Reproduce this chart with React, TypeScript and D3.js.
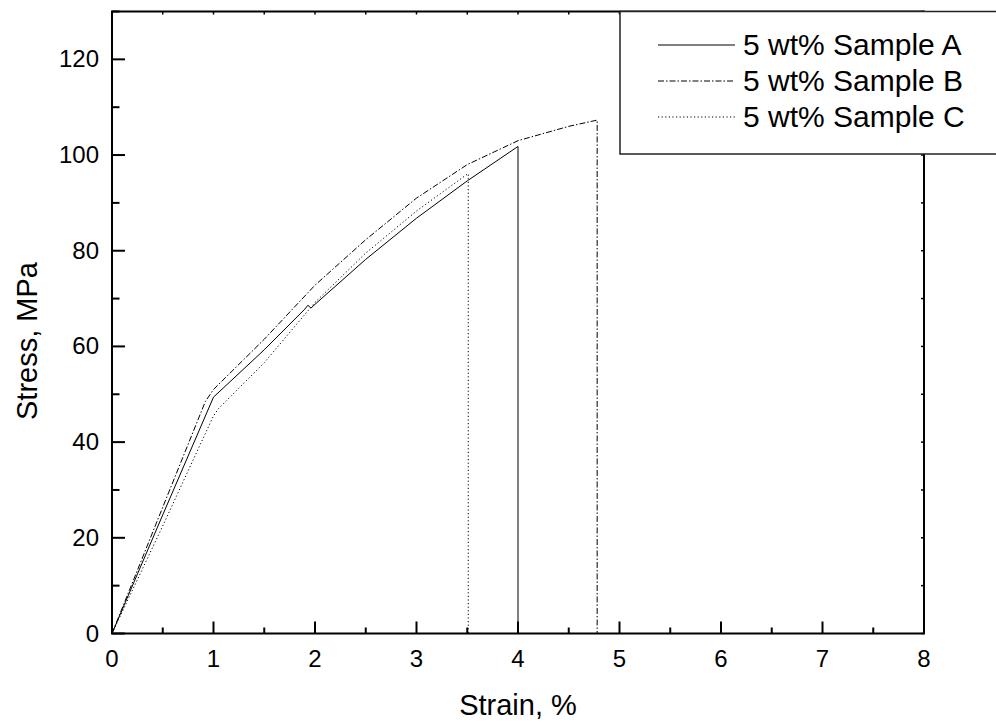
import React from "react";
import * as d3 from "d3";

// strain (%) and stress (MPa)
const strainA = [0, 0.5, 1.0, 1.5, 1.9, 1.93, 1.96, 2.0, 2.5, 3.0, 3.5, 4.0, 4.0];
const stressA = [0, 24.8, 49.4, 59.3, 67.8, 68.6, 68.0, 68.8, 78.2, 86.8, 94.6, 101.8, 0];

const strainB = [0, 0.5, 0.92, 1.0, 1.5, 2.0, 2.5, 3.0, 3.5, 4.0, 4.5, 4.78, 4.78];
const stressB = [0, 26.4, 48.5, 51.0, 61.5, 72.8, 82.3, 91.0, 98.0, 103.0, 106.0, 107.3, 0];

const strainC = [0, 0.5, 1.0, 1.05, 1.5, 2.0, 2.5, 3.0, 3.5, 3.51, 3.51];
const stressC = [0, 22.5, 45.5, 47.0, 56.6, 69.2, 79.5, 88.3, 96.0, 96.1, 0];

const seriesNames = ["5 wt% Sample A", "5 wt% Sample B", "5 wt% Sample C"];
const xTicks = [0, 1, 2, 3, 4, 5, 6, 7, 8];
const yTicks = [0, 20, 40, 60, 80, 100, 120];
const xTitle = "Strain, %";
const yTitle = "Stress, MPa";

const dashes = [null, "6,2,1.5,2", "1.2,2.4"];

export default function App() {
  const W = 996, H = 727;
  const x = d3.scaleLinear().domain([0, 8]).range([112, 924]);
  const y = d3.scaleLinear().domain([0, 130]).range([633.5, 11.5]);
  const line = d3.line<[number, number]>().x(d => x(d[0])).y(d => y(d[1]));
  const series = [
    strainA.map((s, i) => [s, stressA[i]] as [number, number]),
    strainB.map((s, i) => [s, stressB[i]] as [number, number]),
    strainC.map((s, i) => [s, stressC[i]] as [number, number]),
  ];
  const xMinor = d3.range(0, 8.01, 0.5);
  const yMinor = d3.range(0, 130.01, 10);
  const font = "'Liberation Sans', Arial, Helvetica, sans-serif";
  const x0 = x(0), x1 = x(8), yb = y(0), yt = y(130);

  return (
    <svg width={W} height={H} style={{ position: "absolute", left: 0, top: 0, background: "#fff" }}
      fontFamily={font}>
      <rect x={0} y={0} width={W} height={H} fill="#fff" />
      {/* data */}
      {series.map((d, i) => (
        <path key={i} d={line(d) || ""} fill="none" stroke="#000" strokeWidth={1}
          strokeDasharray={dashes[i] || undefined} />
      ))}
      {/* frame */}
      <line x1={x0} x2={x0} y1={yt} y2={yb} stroke="#000" strokeWidth={2} />
      <line x1={x0 - 1} x2={x1 + 1} y1={yb} y2={yb} stroke="#000" strokeWidth={2} />
      <line x1={x0 - 1} x2={x1 + 1} y1={yt} y2={yt} stroke="#000" strokeWidth={2} />
      <line x1={x1} x2={x1} y1={yt} y2={yb} stroke="#000" strokeWidth={2} />
      {/* bottom ticks */}
      {xMinor.map((v, i) => (
        <line key={"bx" + i} x1={x(v)} x2={x(v)} y1={yb} y2={yb - (i % 2 === 0 ? 12 : 6)} stroke="#000" strokeWidth={2} />
      ))}
      {/* top ticks */}
      {xMinor.map((v, i) => (
        <line key={"tx" + i} x1={x(v)} x2={x(v)} y1={yt} y2={yt + 3} stroke="#000" strokeWidth={1.5} />
      ))}
      {/* left ticks */}
      {yMinor.map((v, i) => (
        <line key={"ly" + i} x1={x0} x2={x0 + (i % 2 === 0 ? 13 : 7.5)} y1={y(v)} y2={y(v)} stroke="#000" strokeWidth={2} />
      ))}
      {/* right ticks */}
      {yMinor.map((v, i) => (
        <line key={"ry" + i} x1={x1} x2={x1 - 3} y1={y(v)} y2={y(v)} stroke="#000" strokeWidth={1.5} />
      ))}
      {/* tick labels */}
      {xTicks.map(v => (
        <text key={"xl" + v} x={x(v)} y={yb + 33.5} textAnchor="middle" fontSize={24} fill="#000">{v}</text>
      ))}
      {yTicks.map(v => (
        <text key={"yl" + v} x={99} y={y(v) + 8} textAnchor="end" fontSize={24} fill="#000">{v}</text>
      ))}
      {/* axis titles */}
      <text x={x(4)} y={715} textAnchor="middle" fontSize={29} fill="#000">{xTitle}</text>
      <text transform={`translate(37,341) rotate(-90)`} textAnchor="middle" fontSize={29} fill="#000">{yTitle}</text>
      {/* legend */}
      <rect x={620} y={11.5} width={400} height={142.5} fill="#fff" stroke="#222" strokeWidth={1.5} />
      {seriesNames.map((n, i) => {
        const ly = 45 + i * 36;
        return (
          <g key={n}>
            <line x1={658} x2={735} y1={ly} y2={ly} stroke="#000" strokeWidth={1}
              strokeDasharray={dashes[i] || undefined} />
            <text x={743} y={ly + 10} fontSize={30} fill="#000">{n}</text>
          </g>
        );
      })}
    </svg>
  );
}
